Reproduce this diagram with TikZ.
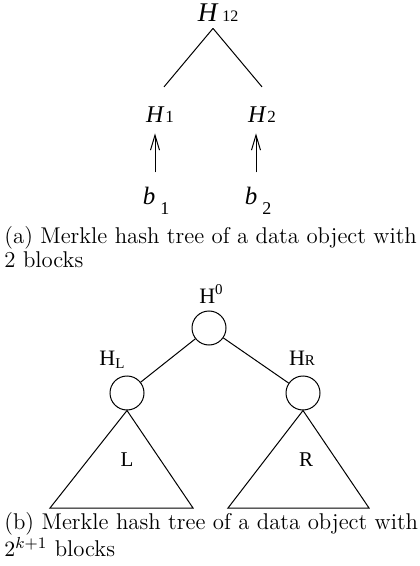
\documentclass[tikz,border=0pt]{standalone}
\usepackage{fontspec}
\newfontfamily\lab{Liberation Serif}
\usetikzlibrary{arrows.meta}
\begin{document}
\begin{tikzpicture}[x=0.5pt,y=-0.5pt,
  lbl/.style={inner sep=0pt,anchor=base},
  edge/.style={line width=0.5pt},
  uparrow/.style={edge,-{Straight Barb[length=7.5pt,width=4.5pt]},shorten <=7.5pt,shorten >=5pt},
  hashnode/.style={draw,circle,line width=0.5pt,minimum size=17pt,inner sep=0pt},
  caption/.style={inner sep=0pt,anchor=base west,align=left,font=\fontsize{11.4}{12}\selectfont}]
\useasboundingbox (0,0) rectangle (419,566);

% --- (a) two-block tree ---
\node[lbl] (h12) at (218,22) {\lab\fontsize{13.5}{15}\selectfont\itshape H\kern2.5pt\upshape\fontsize{8}{10}\selectfont 12};
\node[lbl] (h1) at (160,123) {\lab\fontsize{12}{14}\selectfont\itshape H\kern1pt\upshape\fontsize{8.5}{10}\selectfont 1};
\node[lbl] (h2) at (262,123) {\lab\fontsize{12}{14}\selectfont\itshape H\kern1pt\upshape\fontsize{8.5}{10}\selectfont 2};
\node[lbl] (b1) at (156,205) {\lab\fontsize{12.5}{14}\selectfont\itshape b\kern2.5pt\upshape\fontsize{9}{10}\selectfont\raisebox{-5pt}{1}};
\node[lbl] (b2) at (258,205) {\lab\fontsize{12.5}{14}\selectfont\itshape b\kern2.5pt\upshape\fontsize{9}{10}\selectfont\raisebox{-5pt}{2}};

\draw[edge] ([shift={(-5,6)}]h12.south) -- ([shift={(4,-20)}]h1.north);
\draw[edge] ([shift={(-5,6)}]h12.south) -- ([shift={(0,-20)}]h2.north);
\draw[uparrow] ([xshift=-0.5pt]b1.north) -- ([xshift=-0.5pt]b1.north |- h1.south);
\draw[uparrow] ([xshift=-1pt]b2.north) -- ([xshift=-1pt]b2.north |- h2.south);

% caption anchored at the baseline of its last line
\node[caption] (capa) at (4,268) {(a) Merkle hash tree of a data object with\\2 blocks};

% --- (b) general tree with subtrees L and R ---
\node[hashnode] (c0) at (209,328) {};
\node[hashnode] (cl) at (127,393) {};
\node[hashnode] (cr) at (303,393) {};
\node[lbl] (t0) at (211,303) {\lab\fontsize{11}{13}\selectfont H\raisebox{4.5pt}{\fontsize{7.5}{9}\selectfont 0}};
\node[lbl] (tl) at (112,365) {\lab\fontsize{11}{13}\selectfont H\raisebox{-1.5pt}{\fontsize{7.5}{9}\selectfont L}};
\node[lbl] (tr) at (302,365) {\lab\fontsize{11}{13}\selectfont H\fontsize{7.5}{9}\selectfont R};

\draw[edge] (c0) -- (cl);
\draw[edge] (c0) -- (cr);

\coordinate (lA) at (50,508);
\coordinate (lB) at (193,508);
\coordinate (rA) at (228,508);
\coordinate (rB) at (369,508);
\draw[edge,line join=miter] (cl.south) -- (lA) -- (lB) -- cycle;
\draw[edge,line join=miter] (cr.south) -- (rA) -- (rB) -- cycle;
\node[lbl] (tL) at (127,466) {\lab\fontsize{10.5}{12}\selectfont L};
\node[lbl] (tR) at (306,466) {\lab\fontsize{10.5}{12}\selectfont R};

\node[caption] (capb) at (4,556) {(b) Merkle hash tree of a data object with\\$2^{k+1}$ blocks};
\end{tikzpicture}
\end{document}
